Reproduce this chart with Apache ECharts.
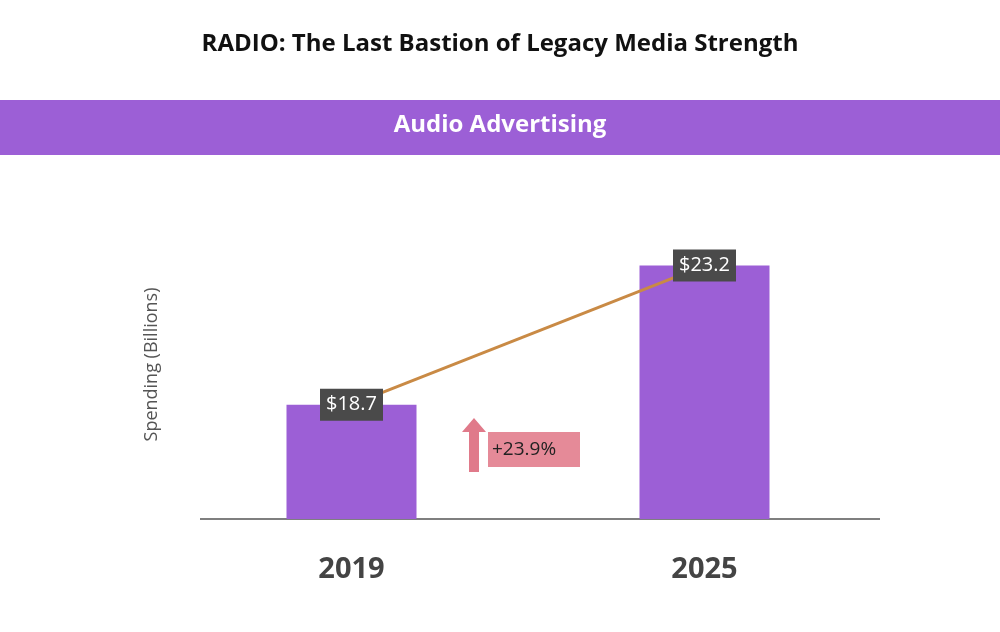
<!DOCTYPE html><html><head><meta charset="utf-8">
<script src="https://cdn.jsdelivr.net/npm/echarts@6/dist/echarts.min.js"></script>
<style>html,body{margin:0;background:#fff}#c{width:1000px;height:632px}</style></head><body><div id="c"></div>
<script>
const categories=['2019','2025'];
const spending=[18.7,23.2];
const changeLabel='+23.9%';
const chart=echarts.init(document.getElementById('c'));
chart.setOption({
  backgroundColor:'#fff',
  title:{text:'RADIO: The Last Bastion of Legacy Media Strength',left:'center',top:27,textStyle:{fontFamily:'Open Sans',fontWeight:'bold',fontSize:24,color:'#111'}},
  grid:{left:175,width:706,bottom:113,top:210},
  xAxis:{type:'category',data:categories,axisLine:{show:false},axisTick:{show:false},
    axisLabel:{margin:36,fontFamily:'Open Sans',fontWeight:'bold',fontSize:29,color:'#444'}},
  yAxis:{type:'value',min:15,max:25,axisLine:{show:false},axisTick:{show:false},axisLabel:{show:false},splitLine:{show:false},
    name:'Spending (Billions)',nameLocation:'middle',nameGap:14,nameRotate:90,nameTextStyle:{fontFamily:'Open Sans',fontSize:18,color:'#555'}},
  graphic:[
    {type:'rect',shape:{x:0,y:100,width:1000,height:55},style:{fill:'#9c5fd6'}},
    {type:'text',left:'center',top:113,style:{text:'Audio Advertising',fill:'#fff',font:'bold 24px Open Sans'}},
    {type:'line',shape:{x1:200,y1:519,x2:880,y2:519},style:{stroke:'#555',lineWidth:1.5}},
    {type:'polygon',shape:{points:[[474,418],[486,432],[479,432],[479,472],[469,472],[469,432],[462,432]]},style:{fill:'#e07a8a'}},
    {type:'rect',shape:{x:488,y:432,width:92,height:35},style:{fill:'#e58a98'}},
    {type:'text',x:492,y:440,style:{text:changeLabel,fill:'#222',font:'19px Open Sans'}}
  ],
  series:[
    {type:'bar',data:spending,barWidth:130,itemStyle:{color:'#9c5fd6'},z:2},
    {type:'line',data:spending,symbol:'circle',symbolSize:0,lineStyle:{color:'#c98a45',width:3},z:3,silent:true,
      label:{show:true,position:'inside',formatter:p=>'$'+p.value,backgroundColor:'#4a4a4a',color:'#fff',
        padding:[6,6],fontFamily:'Open Sans',fontSize:20}}
  ]
});
</script></body></html>
